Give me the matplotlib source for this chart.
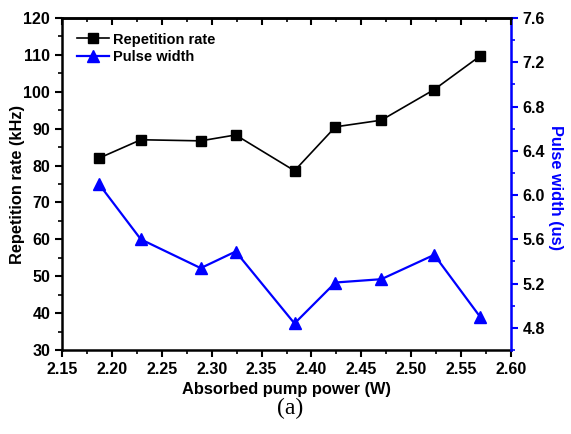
import matplotlib
matplotlib.use("Agg")
import matplotlib.pyplot as plt
from matplotlib.ticker import MultipleLocator

# data
power = [2.187, 2.229, 2.289, 2.324, 2.383, 2.424, 2.470, 2.523, 2.569]
rep_rate = [82.0, 87.0, 86.7, 88.3, 78.6, 90.5, 92.3, 100.6, 109.7]
pulse_width = [6.10, 5.60, 5.34, 5.49, 4.84, 5.21, 5.24, 5.46, 4.90]

plt.rcParams["font.family"] = ["Liberation Sans", "DejaVu Sans"]
plt.rcParams["font.weight"] = "bold"

fig = plt.figure(figsize=(5.71, 4.34), dpi=100)
ax = fig.add_axes([0.1086, 0.1935, 0.7864, 0.765])
ax2 = ax.twinx()
ax3 = ax.twiny()  # only for the inward ticks on the top spine

l1, = ax.plot(power, rep_rate, color="black", lw=1.2, marker="s", ms=7,
              label="Repetition rate")
l2, = ax2.plot(power, pulse_width, color="blue", lw=1.6, marker="^", ms=9,
               label="Pulse width")

ax.set_xlim(2.15, 2.60)
ax3.set_xlim(2.15, 2.60)
ax.set_ylim(30, 120)
ax2.set_ylim(4.6, 7.6)

for a in (ax, ax3):
    a.xaxis.set_major_locator(MultipleLocator(0.05))
    a.xaxis.set_minor_locator(MultipleLocator(0.025))
ax.yaxis.set_major_locator(MultipleLocator(10))
ax.yaxis.set_minor_locator(MultipleLocator(5))
ax2.yaxis.set_major_locator(MultipleLocator(0.4))
ax2.yaxis.set_minor_locator(MultipleLocator(0.2))
ax.xaxis.set_major_formatter(plt.FormatStrFormatter("%.2f"))
ax2.yaxis.set_major_formatter(plt.FormatStrFormatter("%.1f"))

ax.tick_params(axis="x", which="both", direction="out", labelsize=11.5)
ax.tick_params(axis="x", which="major", length=5, width=1.5)
ax.tick_params(axis="x", which="minor", length=3, width=1.2)
ax3.tick_params(axis="x", which="both", direction="in", labeltop=False)
ax3.tick_params(axis="x", which="major", length=5, width=1.5)
ax3.tick_params(axis="x", which="minor", length=3, width=1.2)
ax.tick_params(axis="y", which="major", direction="out", length=5, width=1.5, labelsize=11.5)
ax.tick_params(axis="y", which="minor", direction="out", length=3, width=1.2)
ax2.tick_params(axis="y", which="major", direction="out", length=5, width=1.5,
                color="blue", labelsize=11.5)
ax2.tick_params(axis="y", which="minor", direction="out", length=3, width=1.2, color="blue")

for side in ["left", "bottom", "top"]:
    ax.spines[side].set_linewidth(1.8)
ax3.spines["top"].set_linewidth(1.8)
ax2.spines["right"].set_color("blue")
ax2.spines["right"].set_linewidth(1.8)
for side in ["left", "bottom", "top"]:
    ax2.spines[side].set_visible(False)
for side in ["left", "bottom", "right"]:
    ax3.spines[side].set_visible(False)

ax.set_xlabel("Absorbed pump power (W)", fontsize=11.8, fontweight="bold", labelpad=4)
ax.set_ylabel("Repetition rate (kHz)", fontsize=11.8, fontweight="bold")
ax.yaxis.set_label_coords(-0.082, 0.5)
ax2.set_ylabel("Pulse width (us)", fontsize=11.8, fontweight="bold", color="blue",
               rotation=270, va="center", ha="center")
ax2.yaxis.set_label_coords(1.098, 0.49)

ax.legend(handles=[l1, l2], loc="upper left", frameon=False, fontsize=10.5,
          handlelength=2.2, handletextpad=0.3, borderaxespad=0.6, labelspacing=0.25,
          bbox_to_anchor=(0.0, 1.0))

fig.text(0.508, 0.058, "(a)", family=["Liberation Serif", "DejaVu Serif"],
         fontweight="normal", fontsize=17, ha="center", va="center")

fig.savefig("out.png", dpi=100)
